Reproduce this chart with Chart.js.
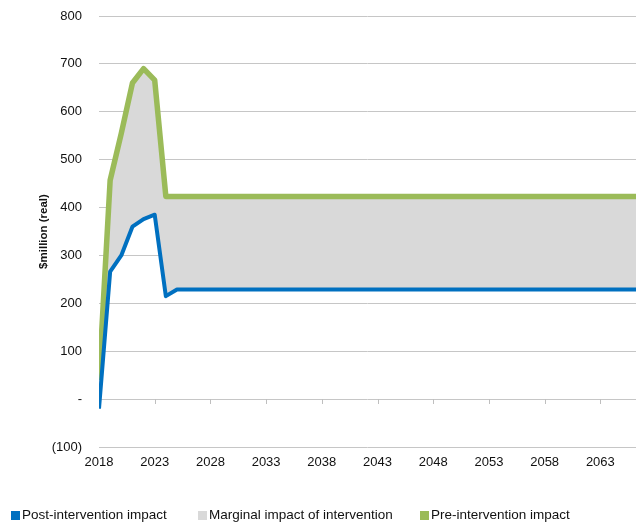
<!DOCTYPE html>
<html>
<head>
<meta charset="utf-8">
<script src="https://cdn.jsdelivr.net/npm/chart.js@4.4.0/dist/chart.umd.min.js"></script>
<style>
  html, body { margin: 0; padding: 0; background: #fff; }
  #wrap { position: relative; width: 636px; height: 524px; }
  #wrap canvas { position: absolute; left: 0; top: 0; }
  .legend { position: absolute; top: 507px; left: 0; width: 636px; height: 16px;
    font: 13.5px "Liberation Sans", Arial, sans-serif; color: #111; }
  .legend span.item { position: absolute; top: 0; white-space: nowrap; line-height: 16px; }
  .legend i { display: inline-block; width: 9px; height: 9px; margin-right: 2px; vertical-align: -1px; }
</style>
</head>
<body>
<div id="wrap">
  <canvas id="chart" width="636" height="524"></canvas>
  <div class="legend" id="legend"></div>
</div>
<script>
// values, $million (real)
const years = [2018, 2019, 2020, 2021, 2022, 2023, 2024, 2025, 2026, 2027,
  2028, 2029, 2030, 2031, 2032, 2033, 2034, 2035, 2036, 2037,
  2038, 2039, 2040, 2041, 2042, 2043, 2044, 2045, 2046, 2047,
  2048, 2049, 2050, 2051, 2052, 2053, 2054, 2055, 2056, 2057,
  2058, 2059, 2060, 2061, 2062, 2063, 2064, 2065, 2066, 2067];
const postIntervention = [-20, 266, 300, 360, 376, 385, 215, 229, 229, 229,
  229, 229, 229, 229, 229, 229, 229, 229, 229, 229,
  229, 229, 229, 229, 229, 229, 229, 229, 229, 229,
  229, 229, 229, 229, 229, 229, 229, 229, 229, 229,
  229, 229, 229, 229, 229, 229, 229, 229, 229, 229];
const preIntervention = [40, 457, 555, 660, 690, 666, 423, 423, 423, 423,
  423, 423, 423, 423, 423, 423, 423, 423, 423, 423,
  423, 423, 423, 423, 423, 423, 423, 423, 423, 423,
  423, 423, 423, 423, 423, 423, 423, 423, 423, 423,
  423, 423, 423, 423, 423, 423, 423, 423, 423, 423];
const xTicks = [2018, 2023, 2028, 2033, 2038, 2043, 2048, 2053, 2058, 2063];
const legendItems = [
  { label: "Post-intervention impact", color: "#0070c0", left: 11 },
  { label: "Marginal impact of intervention", color: "#d9d9d9", left: 198 },
  { label: "Pre-intervention impact", color: "#9bbb59", left: 420 }
];

const FONT = "'Liberation Sans', Arial, sans-serif";

// small tick marks on the zero line, like the Excel category axis
const zeroTicks = {
  id: "zeroTicks",
  beforeDatasetsDraw(chart) {
    const xs = chart.scales.x;
    const y0 = Math.round(chart.scales.y.getPixelForValue(0));
    const ctx = chart.ctx;
    ctx.save();
    ctx.strokeStyle = "#bfbfbf";
    ctx.lineWidth = 1;
    xs.ticks.forEach(t => {
      const px = Math.round(xs.getPixelForValue(t.value)) + 0.5;
      ctx.beginPath();
      ctx.moveTo(px, y0);
      ctx.lineTo(px, y0 + 5);
      ctx.stroke();
    });
    ctx.restore();
  }
};

new Chart(document.getElementById("chart"), {
  type: "line",
  data: {
    datasets: [
      {
        label: "Post-intervention impact",
        data: years.map((y, i) => ({ x: y, y: postIntervention[i] })),
        borderColor: "#0070c0",
        borderWidth: 4,
        fill: false
      },
      {
        label: "Pre-intervention impact",
        data: years.map((y, i) => ({ x: y, y: preIntervention[i] })),
        borderColor: "#9bbb59",
        backgroundColor: "#d9d9d9",
        borderWidth: 5.5,
        fill: "-1"
      }
    ]
  },
  options: {
    responsive: false,
    animation: false,
    layout: { padding: { top: 16, right: 0, bottom: 47, left: 0 } },
    elements: {
      point: { radius: 0 },
      line: { tension: 0, borderJoinStyle: "round", borderCapStyle: "butt" }
    },
    plugins: {
      legend: { display: false },
      tooltip: { enabled: false }
    },
    scales: {
      x: {
        type: "linear",
        min: 2018,
        max: 2066.2,
        afterBuildTicks: (scale) => { scale.ticks = xTicks.map(v => ({ value: v })); },
        afterFit: (scale) => { scale.height = 30; },
        grid: { display: false, drawTicks: false },
        border: { display: false },
        ticks: {
          padding: 8,
          maxRotation: 0,
          color: "#111",
          font: { family: FONT, size: 13 },
          callback: (v) => String(v)
        }
      },
      y: {
        min: -100,
        max: 800,
        afterFit: (scale) => {
          scale.width = 99;
          scale.paddingTop = 0;
          scale.paddingBottom = 0;
        },
        grid: { color: "#c6c6c6", drawTicks: false },
        border: { display: false },
        ticks: {
          stepSize: 100,
          padding: 17,
          color: "#111",
          font: { family: FONT, size: 13 },
          callback: (v) => v === 0 ? "-" : v < 0 ? "(" + (-v) + ")" : v
        },
        title: {
          display: true,
          text: "$million (real)",
          color: "#111",
          font: { family: FONT, size: 11.5, weight: "bold", lineHeight: 1.2 },
          padding: { top: 37, bottom: 0 }
        }
      }
    }
  },
  plugins: [zeroTicks]
});

const legend = document.getElementById("legend");
legendItems.forEach(item => {
  const el = document.createElement("span");
  el.className = "item";
  el.style.left = item.left + "px";
  el.innerHTML = `<i style="background:${item.color}"></i>${item.label}`;
  legend.appendChild(el);
});
</script>
</body>
</html>
